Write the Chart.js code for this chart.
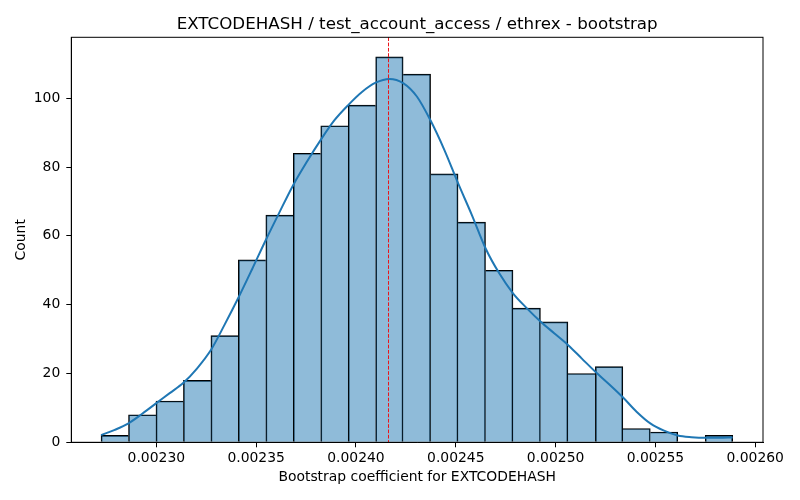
<!DOCTYPE html>
<html>
<head>
<meta charset="utf-8">
<script src="https://cdn.jsdelivr.net/npm/chart.js@4.4.1/dist/chart.umd.min.js"></script>
<style>
  html, body { margin: 0; padding: 0; background: #fff; }
  #wrap { width: 800px; height: 500px; }
</style>
</head>
<body>
<div id="wrap"><canvas id="chart"></canvas></div>
<script>
// histogram bins (bootstrap coefficient)
const binStart = 0.0022723;
const binWidth = 0.000013757;
const counts = [2, 8, 12, 18, 31, 53, 66, 84, 92, 98, 112, 107, 78, 64, 50, 39, 35, 20, 22, 4, 3, 0, 2];

// kde curve, read every half bin from the first bin edge
const kdeValues = [
  2.1, 3.6, 5.5, 8.3, 11.3, 14.3, 17.3, 21.5, 26.8, 34.2, 42.0, 50.3,
  58.8, 66.9, 74.8, 81.6, 87.9, 93.6, 98.0, 101.8, 104.5, 105.6, 104.4, 100.5,
  93.5, 85.0, 75.3, 66.1, 56.4, 49.1, 43.3, 39.0, 35.1, 31.7, 28.3, 24.4,
  20.5, 16.9, 13.1, 8.9, 5.5, 3.4, 2.0, 1.5, 1.3, 1.3, 1.4
];

const meanValue = 0.0024158;

const xTicks = [0.00230, 0.00235, 0.00240, 0.00245, 0.00250, 0.00255, 0.00260];
const yTicks = [0, 20, 40, 60, 80, 100];
const xMin = 0.0022574, xMax = 0.0026039;
const yMax = 117.7;

const titleText = 'EXTCODEHASH / test_account_access / ethrex - bootstrap';
const font = 'DejaVu Sans';
const $chart = document.querySelector('#chart');

const bars = counts.map((c, i) => ({ x: binStart + (i + 0.5) * binWidth, y: c }));
const kde = kdeValues.map((v, i) => ({ x: binStart + i * binWidth / 2, y: v }));

// one edge per boundary, drawn by the taller bar
function barBorder(ctx) {
  const i = ctx.dataIndex;
  const cur = counts[i];
  const prev = counts[i - 1];
  const next = counts[i + 1];
  return {
    top: 1,
    bottom: 0,
    left: (prev === undefined || prev <= cur) ? 1 : 0,
    right: (next === undefined || next < cur) ? 1 : 0
  };
}

const extras = {
  id: 'extras',
  afterDatasetsDraw(chart) {
    const { ctx, chartArea: a, scales } = chart;
    const x = Math.round(scales.x.getPixelForValue(meanValue)) + 0.5;
    ctx.save();
    ctx.beginPath();
    ctx.setLineDash([3.7, 1.6]);
    ctx.strokeStyle = 'rgb(235,20,25)';
    ctx.lineWidth = 1;
    ctx.moveTo(x, a.top);
    ctx.lineTo(x, a.bottom);
    ctx.stroke();
    ctx.setLineDash([]);
    ctx.strokeStyle = '#000';
    ctx.strokeRect(a.left, a.top, a.right - a.left, a.bottom - a.top);
    // title centred over the axes
    ctx.fillStyle = '#000';
    ctx.font = '16.7px "' + font + '"';
    ctx.textAlign = 'center';
    ctx.textBaseline = 'alphabetic';
    ctx.fillText(titleText, (a.left + a.right) / 2, 29);
    ctx.restore();
  }
};

new Chart($chart, {
  type: 'bar',
  data: {
    datasets: [
      {
        type: 'line',
        data: kde,
        borderColor: '#1f77b4',
        borderWidth: 2,
        pointRadius: 0,
        cubicInterpolationMode: 'monotone',
        order: 1
      },
      {
        data: bars,
        backgroundColor: 'rgba(31,119,180,0.5)',
        borderColor: '#000',
        borderWidth: barBorder,
        borderSkipped: false,
        barPercentage: 1,
        categoryPercentage: 1,
        order: 2
      }
    ]
  },
  options: {
    responsive: true,
    maintainAspectRatio: false,
    animation: false,
    layout: { padding: { left: 0, right: 37, top: 37.3, bottom: 0 } },
    plugins: {
      legend: { display: false },
      tooltip: { enabled: false },
      title: { display: false }
    },
    scales: {
      x: {
        type: 'linear',
        offset: false,
        min: xMin,
        max: xMax,
        afterBuildTicks: (s) => { s.ticks = xTicks.map((v) => ({ value: v })); },
        afterFit: (s) => { s.height = 57.7; },
        ticks: {
          color: '#000',
          font: { family: font, size: 13.9 },
          padding: 3,
          maxRotation: 0,
          callback: (v) => v.toFixed(5)
        },
        grid: { offset: false, drawOnChartArea: false, drawTicks: true, tickLength: 5, color: '#000' },
        border: { display: true, color: '#000' },
        title: {
          display: true,
          text: 'Bootstrap coefficient for EXTCODEHASH',
          color: '#000',
          font: { family: font, size: 13.9 },
          padding: { top: 0, bottom: 14.7 }
        }
      },
      y: {
        min: 0,
        max: yMax,
        afterBuildTicks: (s) => { s.ticks = yTicks.map((v) => ({ value: v })); },
        afterFit: (s) => { s.width = 71.3; },
        ticks: {
          color: '#000',
          font: { family: font, size: 13.9 },
          padding: 6
        },
        grid: { drawOnChartArea: false, drawTicks: true, tickLength: 5, color: '#000' },
        border: { display: true, color: '#000' },
        title: {
          display: true,
          text: 'Count',
          color: '#000',
          font: { family: font, size: 13.9 },
          padding: { top: 13.4, bottom: 0 }
        }
      }
    }
  },
  plugins: [extras]
});
</script>
</body>
</html>
